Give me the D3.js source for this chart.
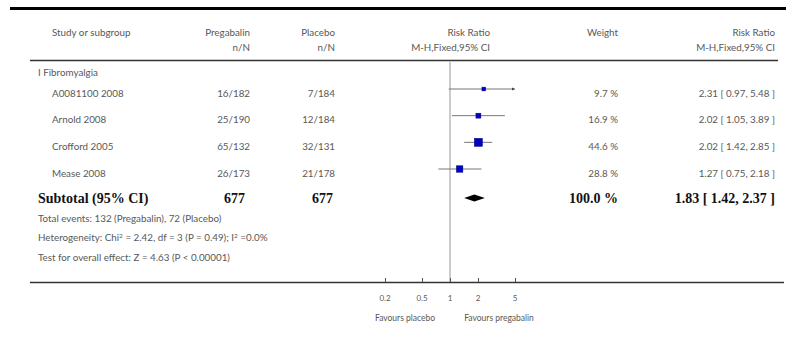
<!DOCTYPE html>
<html>
<head>
<meta charset="utf-8">
<script src="https://cdn.jsdelivr.net/npm/d3@7"></script>
<style>
  html, body { margin: 0; padding: 0; background: #fff; }
  svg text { font-family: Lato, "Open Sans", sans-serif; }
</style>
</head>
<body>
<svg id="chart" width="786" height="351"></svg>
<script>
// Forest plot: pregabalin vs placebo, fibromyalgia subgroup
const studies     = ["A0081100 2008", "Arnold 2008", "Crofford 2005", "Mease 2008"];
const pregEvents  = [16, 25, 65, 26];
const pregTotals  = [182, 190, 132, 173];
const placEvents  = [7, 12, 32, 21];
const placTotals  = [184, 184, 131, 178];
const weights     = [9.7, 16.9, 44.6, 28.8];
const ratios      = [2.31, 2.02, 2.02, 1.27];
const ciLow       = [0.97, 1.05, 1.42, 0.75];
const ciHigh      = [5.48, 3.89, 2.85, 2.18];
const pooled      = [1.83, 1.42, 2.37];   // estimate, lower, upper
const totals      = [677, 677];
const tickValues  = [0.2, 0.5, 1, 2, 5];
const tickLabels  = ["0.2", "0.5", "1", "2", "5"];

const svg = d3.select("#chart");
const grey = "#585858";
const base = 9.8;

const x = d3.scaleLog().domain([0.2, 5]).range([385, 515]);
const y = d3.scaleLinear().domain([0, 3]).range([89, 169]);
const subY = 198;
const size = d3.scaleSqrt().domain([0, 100]).range([0, 12]);

// rules
svg.append("line").attr("x1", 10).attr("x2", 786).attr("y1", 8.5).attr("y2", 8.5)
  .attr("stroke", "#000").attr("stroke-width", 3);
svg.append("line").attr("x1", 30).attr("x2", 778).attr("y1", 60.5).attr("y2", 60.5)
  .attr("stroke", "#333").attr("stroke-width", 1.5);

function txt(xp, yp, s, anchor, opts = {}) {
  return svg.append("text").attr("x", xp).attr("y", yp)
    .attr("text-anchor", anchor || "start")
    .attr("font-size", opts.size || base)
    .attr("font-weight", opts.bold ? "bold" : null)
    .style("font-family", opts.serif ? "'Liberation Serif', 'Times New Roman', serif" : null)
    .attr("fill", opts.color || grey)
    .text(s);
}

// header
txt(52, 36, "Study or subgroup");
txt(250, 36, "Pregabalin", "end");
txt(250, 51, "n/N", "end");
txt(335, 36, "Placebo", "end");
txt(335, 51, "n/N", "end");
txt(490, 36, "Risk Ratio", "end");
txt(490, 51, "M-H,Fixed,95% CI", "end");
txt(618, 36, "Weight", "end");
txt(775, 36, "Risk Ratio", "end");
txt(775, 51, "M-H,Fixed,95% CI", "end");

txt(38, 76, "I Fibromyalgia");

// null line
svg.append("line").attr("x1", x(1)).attr("x2", x(1)).attr("y1", 62).attr("y2", 283)
  .attr("stroke", "#999").attr("stroke-width", 1);

// study rows
studies.forEach((s, i) => {
  const yy = y(i);
  const ty = yy + 7.5;
  txt(52, ty, s);
  txt(250, ty, pregEvents[i] + "/" + pregTotals[i], "end");
  txt(335, ty, placEvents[i] + "/" + placTotals[i], "end");
  txt(618, ty, weights[i].toFixed(1) + " %", "end");
  txt(775, ty, ratios[i].toFixed(2) + " [ " + ciLow[i].toFixed(2) + ", " + ciHigh[i].toFixed(2) + " ]", "end");

  const [dmin, dmax] = x.domain();
  const lo = Math.max(ciLow[i], dmin), hi = Math.min(ciHigh[i], dmax);
  svg.append("line").attr("x1", x(lo)).attr("x2", x(hi)).attr("y1", yy).attr("y2", yy)
    .attr("stroke", "#777").attr("stroke-width", 1);
  if (ciHigh[i] > dmax) {
    const ax = x(dmax);
    svg.append("path").attr("d", `M${ax},${yy} L${ax - 3},${yy - 1.5} L${ax - 3},${yy + 1.5} Z`)
      .attr("fill", "#444");
  }
  const sz = size(weights[i]);
  svg.append("rect").attr("x", x(ratios[i]) - sz / 2).attr("y", yy - sz / 2)
    .attr("width", sz).attr("height", sz).attr("fill", "#0000c8")
    .attr("stroke", "#00007a").attr("stroke-width", 0.5);
});

// subtotal
const bold = { size: 14, bold: true, serif: true, color: "#111" };
txt(38, subY + 5, "Subtotal (95% CI)", "start", bold);
txt(245, subY + 5, totals[0], "end", bold);
txt(333, subY + 5, totals[1], "end", bold);
txt(618, subY + 5, "100.0 %", "end", bold);
txt(775, subY + 5, pooled[0].toFixed(2) + " [ " + pooled[1].toFixed(2) + ", " + pooled[2].toFixed(2) + " ]", "end", bold);
svg.append("path")
  .attr("d", `M${x(pooled[1])},${subY} L${x(pooled[0])},${subY - 3.5} L${x(pooled[2])},${subY} L${x(pooled[0])},${subY + 3.5} Z`)
  .attr("fill", "#000");

txt(38, 222, "Total events: 132 (Pregabalin), 72 (Placebo)");
const het = txt(38, 241, "Heterogeneity: Chi");
het.append("tspan").attr("baseline-shift", "super").attr("font-size", 6.5).text("2");
het.append("tspan").text(" = 2.42, df = 3 (P = 0.49); I");
het.append("tspan").attr("baseline-shift", "super").attr("font-size", 6.5).text("2");
het.append("tspan").text(" =0.0%");
txt(38, 261, "Test for overall effect: Z = 4.63 (P < 0.00001)");

// axis
svg.append("line").attr("x1", 30).attr("x2", 784).attr("y1", 282.5).attr("y2", 282.5)
  .attr("stroke", "#333").attr("stroke-width", 1.5);
const axis = d3.axisTop(x).tickValues(tickValues).tickSize(4).tickFormat("");
const ag = svg.append("g").attr("transform", "translate(0,282)").call(axis);
ag.select(".domain").remove();
ag.selectAll(".tick line").attr("stroke", "#555");
tickValues.forEach((v, i) => {
  txt(x(v), 301, tickLabels[i], "middle", { size: 8 });
});
txt(405, 321, "Favours placebo", "middle", { size: 8.5 });
txt(499, 321, "Favours pregabalin", "middle", { size: 8.5 });
</script>
</body>
</html>
